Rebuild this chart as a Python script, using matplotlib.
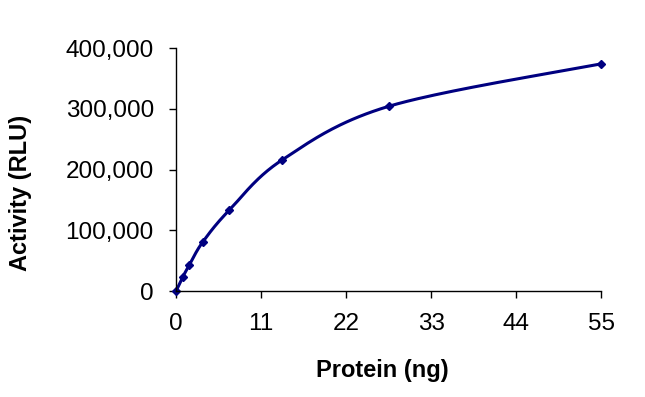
import numpy as np
import matplotlib.pyplot as plt
from matplotlib.ticker import FuncFormatter

plt.rcParams['font.family'] = ['Liberation Sans', 'DejaVu Sans']

protein = [0, 0.86, 1.72, 3.44, 6.875, 13.75, 27.5, 55]
activity = [0, 23000, 43000, 80500, 133000, 216000, 304000, 374000]
x_ticks = [0, 11, 22, 33, 44, 55]
y_ticks = [0, 100000, 200000, 300000, 400000]

color = '#000080'


def smooth(xs, ys, n=40):
    # Excel-like smoothed line: cubic Bezier segments with Catmull-Rom controls
    xs = np.asarray(xs, float)
    ys = np.asarray(ys, float)
    px = np.concatenate([[xs[0]], xs, [xs[-1]]])
    py = np.concatenate([[ys[0]], ys, [ys[-1]]])
    out_x, out_y = [], []
    t = np.linspace(0, 1, n)
    for i in range(1, len(px) - 2):
        p0 = np.array([px[i], py[i]])
        p3 = np.array([px[i + 1], py[i + 1]])
        c1 = p0 + (np.array([px[i + 1], py[i + 1]]) - np.array([px[i - 1], py[i - 1]])) / 6
        c2 = p3 - (np.array([px[i + 2], py[i + 2]]) - np.array([px[i], py[i]])) / 6
        b = ((1 - t) ** 3)[:, None] * p0 + (3 * (1 - t) ** 2 * t)[:, None] * c1 \
            + (3 * (1 - t) * t ** 2)[:, None] * c2 + (t ** 3)[:, None] * p3
        out_x.extend(b[:, 0])
        out_y.extend(b[:, 1])
    return out_x, out_y


fig = plt.figure(figsize=(6.45, 3.97), dpi=100)
ax = fig.add_axes([0.273, 0.267, 0.659, 0.612])

sx, sy = smooth(protein, activity)
ax.plot(sx, sy, color=color, linewidth=2.2, clip_on=False)
ax.plot(protein, activity, linestyle='none', marker='D', markersize=4.5,
        color=color, clip_on=False)

ax.set_xlim(0, 55)
ax.set_ylim(0, 400000)
ax.set_xticks(x_ticks)
ax.set_yticks(y_ticks)
ax.yaxis.set_major_formatter(FuncFormatter(lambda v, p: f"{int(v):,}"))
ax.tick_params(direction='out', length=5, width=1, labelsize=17.5, pad=11)

for s in ['top', 'right']:
    ax.spines[s].set_visible(False)
for s in ['left', 'bottom']:
    ax.spines[s].set_linewidth(1)

fig.text(382 / 645, 1 - 370 / 397, 'Protein (ng)', fontsize=17, fontweight='bold',
         ha='center', va='center')
fig.text(21 / 645, 1 - 193 / 397, 'Activity (RLU)', fontsize=17, fontweight='bold',
         ha='center', va='center', rotation=90)

fig.savefig('out.png', dpi=100)
